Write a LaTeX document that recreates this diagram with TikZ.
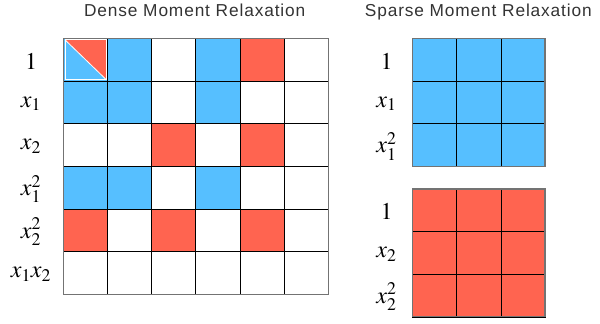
\documentclass[tikz,border=0pt]{standalone}
\usepackage{mathptmx}
\usepackage{fontspec}
\setmainfont{Liberation Serif}
\newfontfamily\ttlfont{Liberation Sans}[LetterSpace=5]
\usetikzlibrary{positioning}
\definecolor{cBlue}{HTML}{56BFFF}
\definecolor{cRed} {HTML}{FF6450}
\definecolor{cTtl} {HTML}{333333}
\tikzset{
  cell/.style  ={draw=black,line width=0.7pt,minimum width=44.1pt,minimum height=42.7pt,
                 inner sep=0pt,outer sep=0pt},
  b cell/.style={cell,fill=cBlue},
  r cell/.style={cell,fill=cRed},
  w cell/.style={cell,fill=white},
  s cell/.style={cell,fill=cBlue},
  frame/.style ={draw=black!55,line width=1.2pt},
  ttl/.style   ={font=\ttlfont\fontsize{17.3}{17.3}\selectfont,text=cTtl,anchor=base,inner sep=0pt},
  lab/.style   ={font=\fontsize{24}{24}\selectfont,inner sep=0pt},
}

\begin{document}
\begin{tikzpicture}[x=1pt, y=-1pt]
\useasboundingbox (0,0) rectangle (600,324);

% ===== titles ==============================================================
\node[ttl] (tdense)  at (194.7,16.7) {Dense Moment Relaxation};
\node[ttl] (tsparse) at (478.3,16.7) {Sparse Moment Relaxation};

% ===== dense moment matrix =================================================
\foreach \r/\row in {0/{s,b,w,b,r,w}, 1/{b,b,w,b,w,w}, 2/{w,w,r,w,r,w},
                     3/{b,b,w,b,w,w}, 4/{r,w,r,w,r,w}, 5/{w,w,w,w,w,w}}{%
  \foreach \k [count=\c from 0] in \row {%
    \node[\k\space cell] (d\r\c) at ({85.55+44.1*\c},{59.65+42.7*\r}) {};
  }
}
% split entry in the corner
\fill[cRed] ([shift={(1.5pt,-1.5pt)}]d00.north west) -- ([shift={(-1.5pt,-1.5pt)}]d00.north east)
  -- ([shift={(-1.5pt,1.5pt)}]d00.south east) -- cycle;
\draw[white,line width=0.8pt] ([shift={(1.5pt,-1.5pt)}]d00.north west)
  rectangle ([shift={(-1.5pt,1.5pt)}]d00.south east);
\draw[white,line width=0.8pt] ([shift={(1.5pt,-1.5pt)}]d00.north west)
  -- ([shift={(-1.5pt,1.5pt)}]d00.south east);
\draw[frame] (d00.north west) rectangle (d55.south east);

\foreach \lbl [count=\r from 0] in {1,x_1,x_2,x_1^2,x_2^2,x_1x_2}{%
  \node[lab] (ld\r) at (31,{61+42.7*\r}) {$\lbl$};
}

% ===== sparse moment matrices ==============================================
\foreach \r in {0,1,2}{%
  \foreach \c in {0,1,2}{%
    \node[b cell] (sa\r\c) at ({434.75+44.1*\c},{59.6+42.6*\r}) {};
    \node[r cell] (sb\r\c) at ({434.75+44.1*\c},{210.3+42.6*\r}) {};
  }
}
\draw[frame] (sa00.north west) rectangle (sa22.south east);
\draw[frame] (sb00.north west) rectangle (sb22.south east);

\foreach \lbl [count=\r from 0] in {1,x_1,x_1^2}{%
  \node[lab] (la\r) at (386.5,{61+42.6*\r}) {$\lbl$};
}
\foreach \lbl [count=\r from 0] in {1,x_2,x_2^2}{%
  \node[lab] (lb\r) at (386.5,{211.7+42.6*\r}) {$\lbl$};
}
\end{tikzpicture}
\end{document}
